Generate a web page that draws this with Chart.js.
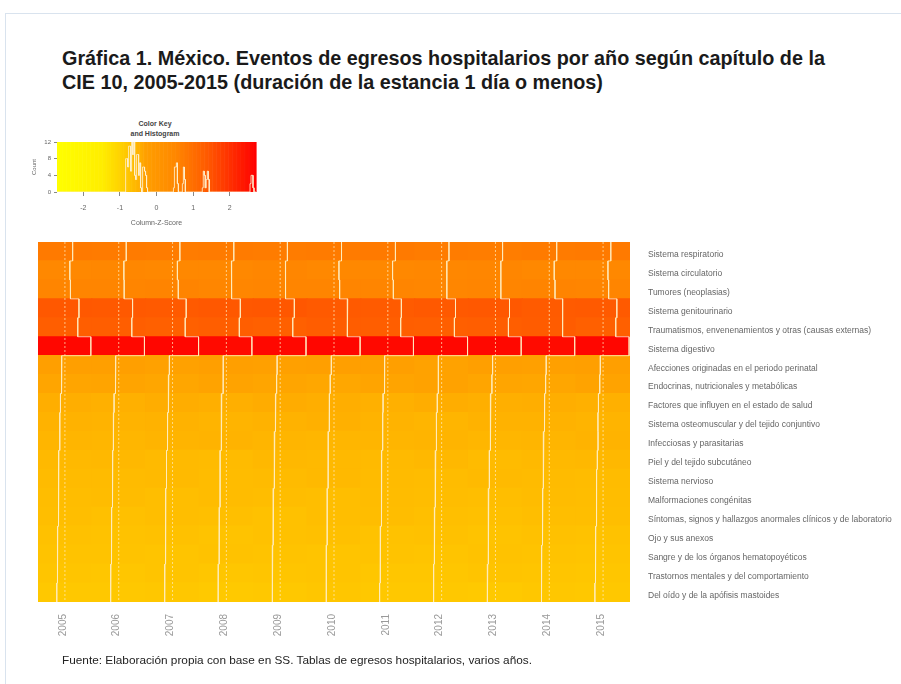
<!DOCTYPE html>
<html>
<head>
<meta charset="utf-8">
<script src="https://cdn.jsdelivr.net/npm/chart.js@4.4.1/dist/chart.umd.min.js"></script>
<style>
  body { margin: 0; background: #fff; width: 901px; height: 684px; position: relative; overflow: hidden; font-family: "Liberation Sans", Arial, sans-serif; }
  .frame { position: absolute; left: 5px; top: 13px; width: 900px; height: 680px; border: 1px solid #d9e3ee; }
  .title { position: absolute; left: 62px; top: 46px; font-weight: bold; font-size: 19.8px; line-height: 24px; color: #1a1a1a; }
  .foot { position: absolute; left: 62px; top: 653px; font-size: 11.8px; line-height: 14px; color: #222; }
  .keyTitle { position: absolute; left: 105px; top: 119px; width: 100px; text-align: center; font-weight: bold; font-size: 7px; line-height: 10px; color: #444; }
  canvas { position: absolute; }
</style>
</head>
<body>
<div class="frame"></div>
<div class="title">Gráfica 1. México. Eventos de egresos hospitalarios por año según capítulo de la<br>CIE 10, 2005-2015 (duración de la estancia 1 día o menos)</div>
<div class="keyTitle">Color Key<br>and Histogram</div>
<canvas id="key" width="280" height="125" style="left:0;top:110px"></canvas>
<canvas id="heat" width="901" height="684" style="left:0;top:0"></canvas>
<div class="foot">Fuente: Elaboración propia con base en SS. Tablas de egresos hospitalarios, varios años.</div>
<script>
var years = ["2005","2006","2007","2008","2009","2010","2011","2012","2013","2014","2015"];

var capitulos = [
    "Sistema respiratorio",
    "Sistema circulatorio",
    "Tumores (neoplasias)",
    "Sistema genitourinario",
    "Traumatismos, envenenamientos y otras (causas externas)",
    "Sistema digestivo",
    "Afecciones originadas en el periodo perinatal",
    "Endocrinas, nutricionales y metabólicas",
    "Factores que influyen en el estado de salud",
    "Sistema osteomuscular y del tejido conjuntivo",
    "Infecciosas y parasitarias",
    "Piel y del tejido subcutáneo",
    "Sistema nervioso",
    "Malformaciones congénitas",
    "Síntomas, signos y hallazgos anormales clínicos y de laboratorio",
    "Ojo y sus anexos",
    "Sangre y de los órganos hematopoyéticos",
    "Trastornos mentales y del comportamiento",
    "Del oído y de la apófisis mastoides"
];

// column z-score per capitulo (rows) and year (columns)
var zScores = [
    [0.78, 0.76, 0.74, 0.75, 0.73, 0.76, 0.77, 0.74, 0.72, 0.75, 0.78],
    [0.50, 0.52, 0.49, 0.51, 0.53, 0.50, 0.48, 0.52, 0.54, 0.50, 0.49],
    [0.56, 0.55, 0.58, 0.54, 0.55, 0.57, 0.56, 0.53, 0.55, 0.58, 0.56],
    [1.42, 1.40, 1.38, 1.41, 1.43, 1.39, 1.37, 1.40, 1.42, 1.36, 1.39],
    [1.30, 1.32, 1.28, 1.31, 1.27, 1.33, 1.30, 1.29, 1.31, 1.34, 1.28],
    [2.62, 2.60, 2.63, 2.58, 2.61, 2.64, 2.59, 2.62, 2.60, 2.57, 2.63],
    [-0.30, -0.28, -0.32, -0.29, -0.31, -0.27, -0.30, -0.33, -0.29, -0.31, -0.28],
    [-0.36, -0.35, -0.37, -0.34, -0.36, -0.38, -0.35, -0.33, -0.36, -0.37, -0.34],
    [-0.45, -0.47, -0.44, -0.46, -0.43, -0.45, -0.48, -0.44, -0.46, -0.45, -0.47],
    [-0.50, -0.51, -0.49, -0.52, -0.50, -0.48, -0.51, -0.53, -0.49, -0.50, -0.52],
    [-0.53, -0.55, -0.52, -0.51, -0.54, -0.56, -0.53, -0.52, -0.55, -0.54, -0.51],
    [-0.60, -0.59, -0.61, -0.62, -0.58, -0.60, -0.61, -0.59, -0.62, -0.60, -0.58],
    [-0.62, -0.63, -0.61, -0.64, -0.62, -0.60, -0.63, -0.64, -0.61, -0.62, -0.65],
    [-0.66, -0.65, -0.67, -0.64, -0.66, -0.68, -0.65, -0.66, -0.67, -0.64, -0.66],
    [-0.68, -0.70, -0.67, -0.69, -0.71, -0.68, -0.66, -0.69, -0.70, -0.68, -0.67],
    [-0.72, -0.73, -0.71, -0.74, -0.72, -0.70, -0.73, -0.72, -0.74, -0.71, -0.73],
    [-0.74, -0.75, -0.76, -0.73, -0.75, -0.77, -0.74, -0.76, -0.73, -0.75, -0.76],
    [-0.78, -0.79, -0.77, -0.80, -0.78, -0.76, -0.79, -0.80, -0.77, -0.78, -0.79],
    [-0.82, -0.83, -0.81, -0.84, -0.82, -0.80, -0.83, -0.82, -0.84, -0.81, -0.83]
];

var keyTicks = [-2, -1, 0, 1, 2];
var countTicks = [0, 4, 8, 12];

var zMin = -2.72, zMax = 2.72;
// colour ramp yellow -> red, as hue stops
var hueStops = [[-2.72, 60], [-1.5, 56], [-0.82, 47], [-0.5, 42], [-0.3, 37.5], [0.5, 32], [0.75, 29], [1.4, 21], [2.6, 2], [2.72, 0]];

function colorFor(z){
    for (var i = 1; i < hueStops.length; i++){
        if (z <= hueStops[i][0]){
            var a = hueStops[i-1], b = hueStops[i];
            var t = Math.max(0, (z - a[0]) / (b[0] - a[0]));
            var h = a[1] + (b[1] - a[1]) * t;
            return "hsl(" + h.toFixed(1) + ",100%,50%)";
        }
    }
    return "hsl(0,100%,50%)";
}

var traceCol = "rgba(255,236,190,0.8)";
var zSpan = zMax - zMin;

// heatmap cells
var cells = [], cellColors = [];
zScores.forEach(function(row, r){
    row.forEach(function(z, c){
        cells.push({x: [c, c + 1], y: r + 0.5});
        cellColors.push(colorFor(z));
    });
});

var datasets = [{
    type: "bar",
    data: cells,
    backgroundColor: cellColors,
    borderWidth: 0,
    inflateAmount: 0.6,
    barPercentage: 1,
    categoryPercentage: 1,
    order: 3
}];

years.forEach(function(y, c){
    // dashed line at z = 0, trace of the column z-scores
    var centre = c + (0 - zMin) / zSpan;
    datasets.push({
        type: "line",
        data: [{x: centre, y: 0}, {x: centre, y: capitulos.length}],
        borderColor: "rgba(255,236,190,0.7)",
        borderWidth: 1,
        borderDash: [2, 2],
        pointRadius: 0,
        order: 2
    });
    var pts = [];
    zScores.forEach(function(row, r){
        var xv = c + (row[c] - zMin) / zSpan;
        pts.push({x: xv, y: r});
        pts.push({x: xv, y: r + 1});
    });
    datasets.push({
        type: "line",
        data: pts,
        borderColor: traceCol,
        borderWidth: 1,
        pointRadius: 0,
        tension: 0,
        order: 1
    });
});

new Chart(document.getElementById("heat"), {
    data: {datasets: datasets},
    options: {
        indexAxis: "y",
        responsive: false,
        animation: false,
        devicePixelRatio: 1,
        layout: {padding: {left: 38, top: 242, right: 0, bottom: 0}},
        plugins: {legend: {display: false}, tooltip: {enabled: false}},
        scales: {
            x: {
                type: "linear", min: 0, max: years.length, offset: false,
                grid: {display: false, drawTicks: false}, border: {display: false},
                afterBuildTicks: function(s){ s.ticks = years.map(function(y, i){ return {value: i + 0.5}; }); },
                afterFit: function(s){ s.height = 82; },
                ticks: {
                    autoSkip: false, minRotation: 90, maxRotation: 90, padding: 12, labelOffset: -2,
                    color: "#999", font: {family: "Liberation Sans", size: 10},
                    callback: function(v, i){ return years[i]; }
                }
            },
            y: {
                type: "linear", min: 0, max: capitulos.length, reverse: true, position: "right", offset: false,
                grid: {display: false, drawTicks: false, offset: false}, border: {display: false},
                afterBuildTicks: function(s){ s.ticks = capitulos.map(function(c, i){ return {value: i + 0.5}; }); },
                afterFit: function(s){ s.width = 271; },
                ticks: {
                    autoSkip: false, padding: 18, labelOffset: 3,
                    color: "#666", font: {family: "Liberation Sans", size: 8.5},
                    callback: function(v, i){ return capitulos[i]; }
                }
            }
        }
    }
});

// colour key with histogram of the z-scores
var nBins = 200, binW = zSpan / nBins;
var counts = [];
for (var b = 0; b < nBins; b++) counts.push(0);
zScores.forEach(function(row){
    row.forEach(function(z){
        var k = Math.min(nBins - 1, Math.floor((z - zMin) / binW));
        counts[k]++;
    });
});
var histPts = [];
counts.forEach(function(n, k){
    histPts.push({x: zMin + k * binW, y: n});
    histPts.push({x: zMin + (k + 1) * binW, y: n});
});

var rampPlugin = {
    id: "ramp",
    beforeDatasetsDraw: function(chart){
        var ctx = chart.ctx, a = chart.chartArea, xs = chart.scales.x;
        var steps = 150;
        for (var i = 0; i < steps; i++){
            var z0 = zMin + zSpan * i / steps, z1 = zMin + zSpan * (i + 1) / steps;
            var p0 = xs.getPixelForValue(z0), p1 = xs.getPixelForValue(z1);
            ctx.fillStyle = colorFor((z0 + z1) / 2);
            ctx.fillRect(p0, a.top, p1 - p0 + 0.6, a.bottom - a.top);
        }
    }
};

new Chart(document.getElementById("key"), {
    type: "line",
    data: {datasets: [{
        data: histPts,
        borderColor: "rgba(255,240,205,0.85)",
        borderWidth: 1,
        pointRadius: 0,
        tension: 0
    }]},
    plugins: [rampPlugin],
    options: {
        responsive: false,
        animation: false,
        devicePixelRatio: 1,
        layout: {padding: {left: 30, top: 32, right: 24, bottom: 4}},
        plugins: {legend: {display: false}, tooltip: {enabled: false}},
        scales: {
            x: {
                type: "linear", min: zMin, max: zMax,
                grid: {drawOnChartArea: false, tickLength: 4, color: "#888"}, border: {display: false},
                afterBuildTicks: function(s){ s.ticks = keyTicks.map(function(v){ return {value: v}; }); },
                afterFit: function(s){ s.height = 39; },
                ticks: {padding: 8, color: "#666", font: {family: "Liberation Sans", size: 7}},
                title: {display: true, text: "Column-Z-Score", color: "#666", font: {family: "Liberation Sans", size: 7}, padding: {top: 2}}
            },
            y: {
                type: "linear", min: 0, max: 12,
                grid: {drawOnChartArea: false, tickLength: 3, color: "#888"}, border: {display: false},
                afterBuildTicks: function(s){ s.ticks = countTicks.map(function(v){ return {value: v}; }); },
                afterFit: function(s){ s.width = 27; },
                ticks: {padding: 3, color: "#666", font: {family: "Liberation Sans", size: 6}},
                title: {display: true, text: "Count", color: "#666", font: {family: "Liberation Sans", size: 6}, padding: 1}
            }
        }
    }
});
</script>
</body>
</html>
